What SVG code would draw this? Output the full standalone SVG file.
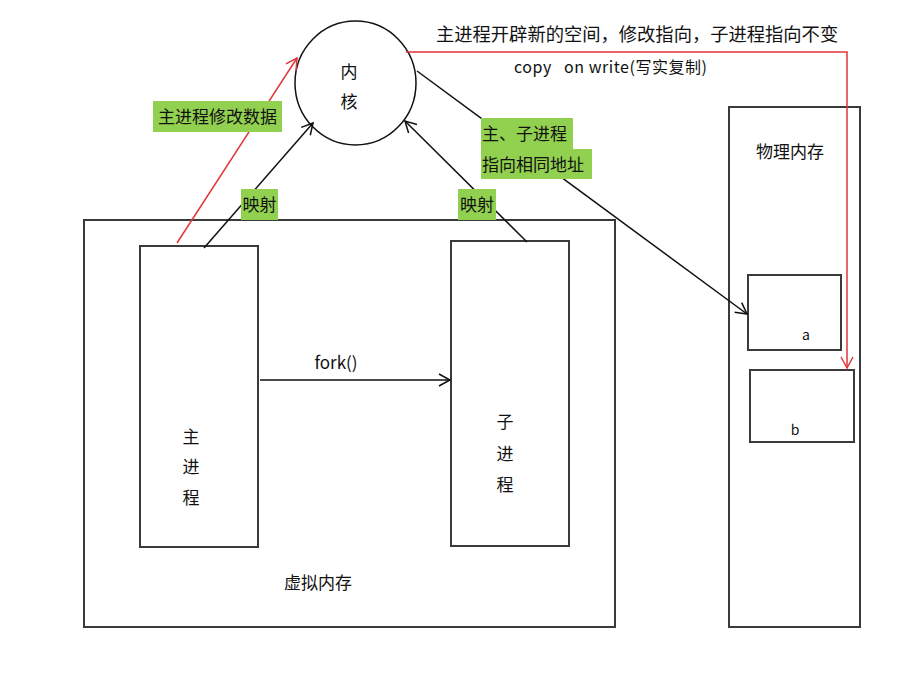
<svg xmlns="http://www.w3.org/2000/svg" width="920" height="676" viewBox="0 0 920 676">
<style>
text{font-family:"Noto Sans CJK SC","Liberation Sans",sans-serif;fill:#111;}
.box{fill:none;stroke:#3a3a3a;stroke-width:2;}
.lbl{font-size:17px;}
.bg{fill:#92D050;}
.blk{stroke:#111;stroke-width:1.5;fill:none;}
.red{stroke:#E0353B;stroke-width:1.5;fill:none;}
</style>
<defs>
<marker id="ab" markerWidth="14" markerHeight="14" refX="12" refY="7" orient="auto" markerUnits="userSpaceOnUse">
<path d="M1,1 L12,7 L1,13" fill="none" stroke="#111" stroke-width="1.5"/>
</marker>
<marker id="ar" markerWidth="14" markerHeight="14" refX="12" refY="7" orient="auto" markerUnits="userSpaceOnUse">
<path d="M1,1 L12,7 L1,13" fill="none" stroke="#E0353B" stroke-width="1.5"/>
</marker>
</defs>
<rect width="920" height="676" fill="#fff"/>

<g id="kernel">
<ellipse cx="355.5" cy="83" rx="60.5" ry="62" fill="#fff" stroke="#111" stroke-width="1.5"/>
<text x="349" y="78" class="lbl" text-anchor="middle">内</text>
<text x="349" y="108" class="lbl" text-anchor="middle">核</text>
</g>

<g id="virtual-memory">
<rect x="84" y="220" width="531" height="407" class="box"/>
<text x="318" y="589" class="lbl" text-anchor="middle">虚拟内存</text>
</g>

<g id="main-process">
<rect x="140" y="246" width="118" height="301" class="box"/>
<text x="191" y="443" class="lbl" text-anchor="middle">主</text>
<text x="191" y="473" class="lbl" text-anchor="middle">进</text>
<text x="191" y="504" class="lbl" text-anchor="middle">程</text>
</g>

<g id="child-process">
<rect x="451" y="241" width="118" height="305" class="box"/>
<text x="505" y="428" class="lbl" text-anchor="middle">子</text>
<text x="505" y="460" class="lbl" text-anchor="middle">进</text>
<text x="505" y="491" class="lbl" text-anchor="middle">程</text>
</g>

<g id="physical-memory">
<rect x="729" y="107" width="131" height="520" class="box"/>
<text x="790" y="158" class="lbl" text-anchor="middle">物理内存</text>
</g>

<g id="page-a">
<rect x="748" y="275" width="93" height="75" class="box"/>
<text x="806" y="340" font-size="14" text-anchor="middle">a</text>
</g>

<g id="page-b">
<rect x="750" y="370" width="104" height="72" class="box"/>
<text x="795" y="435" font-size="14" text-anchor="middle">b</text>
</g>

<g id="connectors">
<line x1="177" y1="243" x2="297" y2="58" class="red" marker-end="url(#ar)"/>
<line x1="204" y1="248" x2="313" y2="123" class="blk" marker-end="url(#ab)"/>
<line x1="527" y1="242" x2="405" y2="121" class="blk" marker-end="url(#ab)"/>
<line x1="417" y1="71" x2="747" y2="314" class="blk" marker-end="url(#ab)"/>
<line x1="260" y1="380" x2="450" y2="380" class="blk" marker-end="url(#ab)"/>
<polyline points="406,52 847,52 847,368" class="red" marker-end="url(#ar)"/>

<rect x="153" y="101" width="129" height="31" class="bg"/>
<text x="217.5" y="123" class="lbl" text-anchor="middle">主进程修改数据</text>
<rect x="241" y="189" width="37" height="31" class="bg"/>
<text x="259.5" y="211" class="lbl" text-anchor="middle">映射</text>
<rect x="458" y="189" width="38" height="31" class="bg"/>
<text x="477" y="211" class="lbl" text-anchor="middle">映射</text>
<rect x="481" y="118" width="92" height="31" class="bg"/>
<rect x="481" y="149" width="111" height="30" class="bg"/>
<text x="482" y="140" class="lbl">主、子进程</text>
<text x="482" y="171" class="lbl">指向相同地址</text>
<text x="336" y="369" class="lbl" text-anchor="middle">fork()</text>
<text x="436" y="41" font-size="18.3">主进程开辟新的空间，修改指向，子进程指向不变</text>
<text x="514" y="73" font-size="16" xml:space="preserve" style="white-space:pre" textLength="193" lengthAdjust="spacing">copy   on write(写实复制)</text>
</g>
</svg>
